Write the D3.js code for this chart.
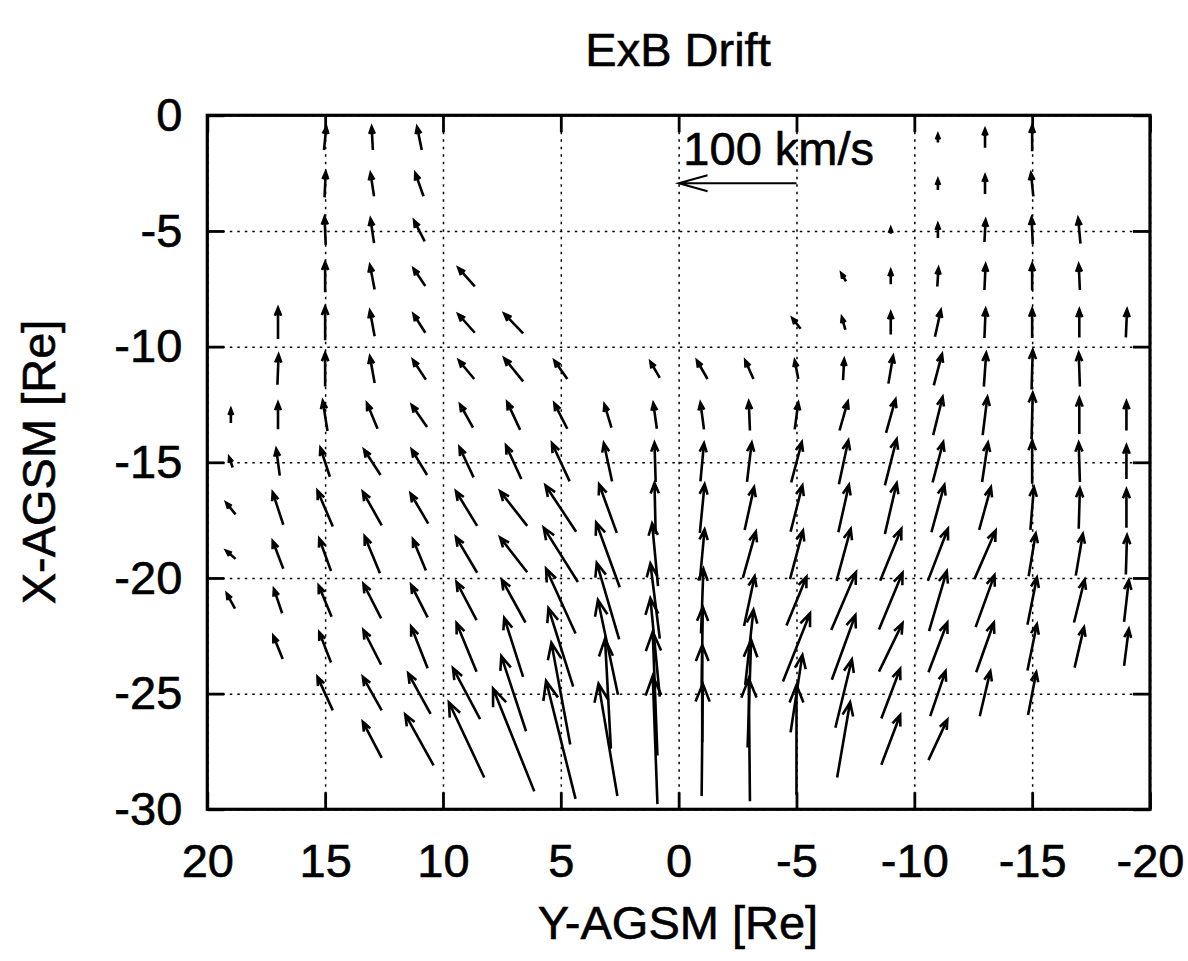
<!DOCTYPE html>
<html>
<head>
<meta charset="utf-8">
<script src="https://cdn.jsdelivr.net/npm/d3@7"></script>
<style>
  body { margin: 0; background: #fff; }
  text { font-family: "Liberation Sans", Arial, Helvetica, sans-serif; fill: #000; stroke: #000; stroke-width: 0.6px; }
</style>
</head>
<body>
<svg id="chart" width="1188" height="961"></svg>
<script>
// sample grid (Re)
const colsY = [19, 17, 15, 13, 11, 9, 7, 5, 3, 1, -1, -3, -5, -7, -9, -11, -13, -15, -17, -19];
const rowsX = [-1, -3, -5, -7, -9, -11, -13, -15, -17, -19, -21, -23, -25, -27, -29];

const n = null;
// Vx (km/s, sunward) : one line per Y column, rows X = -1 ... -29
const vxKms = [
  [n, n, n, n, n, n, 12, 9, 10, 7, 13, n, n, n, n],          // Y=19
  [n, n, n, n, 27, 26, 23, 23, 28, 24, 21, 20, n, n, n],     // Y=17
  [20, 22, 24, 26, 29, 29, 26, 25, 31, 28, 27, 26, 29, n, n],// Y=15
  [20, 20, 21, 21, 22, 23, 22, 22, 29, 32, 30, 30, 29, 31, n],
  [20, 20, 18, 15, 16, 17, 19, 22, 26, 27, 28, 36, 35, 44, n],
  [n, n, n, 16, 16, 16, 20, 26, 30, 31, 33, 42, 44, 65, n],
  [n, n, n, n, 17, 20, 24, 29, 30, 30, 37, 51, 65, 89, n],
  [n, n, n, n, n, 16, 22, 33, 40, 47, 56, 68, 88, 102, n],   // Y=5
  [n, n, n, n, n, n, 20, 33, 42, 56, 66, 82, 95, 97, n],
  [n, n, n, n, n, 14, 22, 34, 44, 54, 65, 85, 107, 111, n],  // Y=1
  [n, n, n, n, n, 16, 23, 33, 42, 44, 56, 70, 84, 97, n],    // Y=-1
  [n, n, n, n, n, 16, 25, 34, 37, 40, 43, 65, 93, 106, n],
  [n, n, n, n, 9, 16, 23, 35, 40, 42, 42, 59, 67, 95, n],    // Y=-5
  [n, n, n, 7, 11, 18, 25, 38, 41, 45, 50, 56, 59, 65, n],
  [n, n, 5, 12, 19, 24, 29, 40, 44, 45, 49, 42, 43, 43, n],
  [7, 9, 12, 16, 23, 27, 33, 35, 41, 45, 52, 43, 39, 35, n], // Y=-11
  [16, 16, 19, 22, 25, 29, 33, 34, 37, 42, 45, 43, 39, n, n],
  [22, 20, 23, 23, 25, 34, 40, 37, 37, 37, 41, 40, 37, n, n],// Y=-15
  [n, n, 22, 22, 24, 29, 31, 34, 35, 36, 37, 35, n, n, n],
  [n, n, n, n, 24, n, 25, 29, 33, 34, 36, 32, n, n, n]       // Y=-19
];
// Vy (km/s, +Y is to the left on this plot)
const vyKms = [
  [n, n, n, n, n, n, 0, 3, 8, 8, 7, n, n, n, n],
  [n, n, n, n, 0, -1, 0, 3, 9, 9, 7, 8, n, n, n],
  [-2, -1, 1, 0, 0, 0, 4, 8, 13, 10, 11, 10, 13, n, n],
  [1, 3, 3, 4, 4, 4, 9, 14, 16, 13, 15, 15, 16, 16, n],
  [4, 7, 9, 10, 10, 11, 13, 13, 15, 11, 14, 14, 19, 24, n],
  [n, n, n, 14, 14, 13, 11, 12, 18, 18, 17, 17, 23, 30, n],
  [n, n, n, n, 16, 16, 11, 13, 23, 23, 20, 16, 21, 35, n],
  [n, n, n, n, n, 11, 11, 15, 26, 29, 25, 21, 16, 25, n],
  [n, n, n, n, n, n, 6, 7, 15, 20, 19, 17, 5, 16, n],
  [n, n, n, n, n, 8, 3, 1, 1, 5, 8, 8, 4, 4, n],
  [n, n, n, n, n, 9, 3, -3, -4, -4, -2, -1, 0, -1, n],
  [n, n, n, n, n, 7, 1, -4, -8, -11, -9, -7, -3, 1, n],
  [n, n, n, n, 7, 3, -3, -9, -10, -11, -17, -23, -10, 0, n],
  [n, n, n, 4, 3, -1, -7, -8, -9, -12, -21, -20, -14, -11, n],
  [n, n, 0, 0, 0, -4, -8, -10, -10, -18, -20, -20, -16, -16, n],
  [0, 0, 0, -1, -5, -7, -8, -9, -11, -17, -15, -16, -13, -16, n],
  [0, 0, -1, -1, -1, -2, -4, -5, -10, -18, -16, -15, -9, n, n],
  [0, 2, 1, 0, 0, -1, -1, 0, -3, -6, -8, -8, -7, n, n],
  [n, n, 2, 1, 0, 1, 0, 1, -1, -6, -9, -8, n, n, n],
  [n, n, n, n, -1, n, 0, 0, 0, -1, -4, -4, n, n, n]
];

const xTicks = [20, 15, 10, 5, 0, -5, -10, -15, -20];
const yTicks = [0, -5, -10, -15, -20, -25, -30];

const keySpeed = 100;        // km/s
const keyTail = [-5, -2.94]; // Y, X of the reference arrow tail
const rePerKms = 0.05;       // 100 km/s drawn as 5 Re

const svg = d3.select("#chart");
const pLeft = 207.3, pRight = 1150, pTop = 115.3, pBottom = 809.3;

const x = d3.scaleLinear().domain([20, -20]).range([pLeft, pRight]);
const y = d3.scaleLinear().domain([0, -30]).range([pTop, pBottom]);

// dotted grid
svg.append("g")
  .attr("transform", `translate(0,${pBottom})`)
  .call(d3.axisBottom(x).tickValues(xTicks).tickSize(-(pBottom - pTop)).tickFormat(""))
  .call(g => g.select(".domain").remove())
  .selectAll("line")
  .attr("stroke-width", 1.5)
  .attr("stroke-dasharray", "2.5,5");

svg.append("g")
  .attr("transform", `translate(${pLeft},0)`)
  .call(d3.axisLeft(y).tickValues(yTicks).tickSize(-(pRight - pLeft)).tickFormat(""))
  .call(g => g.select(".domain").remove())
  .selectAll("line")
  .attr("stroke-width", 1.5)
  .attr("stroke-dasharray", "2.5,5");

// vectors, centred on the sample points
let arrows = [];
colsY.forEach((Y, i) => {
  rowsX.forEach((X, j) => {
    if (vxKms[i][j] == null) return;
    let dY = vyKms[i][j] * rePerKms, dX = vxKms[i][j] * rePerKms;
    arrows.push({ t: [x(Y - dY / 2), y(X - dX / 2)], h: [x(Y + dY / 2), y(X + dX / 2)] });
  });
});

function arrowPath(a, hl, ang) {
  let dx = a.h[0] - a.t[0], dy = a.h[1] - a.t[1];
  let th = Math.atan2(dy, dx);
  let w1 = [a.h[0] - hl * Math.cos(th - ang), a.h[1] - hl * Math.sin(th - ang)];
  let w2 = [a.h[0] - hl * Math.cos(th + ang), a.h[1] - hl * Math.sin(th + ang)];
  return `M${a.t}L${a.h}M${w1}L${a.h}L${w2}`;
}

svg.append("g")
  .selectAll("path")
  .data(arrows)
  .join("path")
  .attr("d", a => {
    let L = Math.hypot(a.h[0] - a.t[0], a.h[1] - a.t[1]);
    return arrowPath(a, 0.13 * L + 4.5, 0.38);
  })
  .attr("fill", "none")
  .attr("stroke", "#000")
  .attr("stroke-width", 2.6);

// key arrow
let key = {
  t: [x(keyTail[0]), y(keyTail[1])],
  h: [x(keyTail[0] + keySpeed * rePerKms), y(keyTail[1])]
};
svg.append("path")
  .attr("d", arrowPath(key, 30, 0.27))
  .attr("fill", "none")
  .attr("stroke", "#000")
  .attr("stroke-width", 2);

svg.append("text")
  .attr("x", x(-0.2))
  .attr("y", y(-2.15))
  .attr("font-size", 47)
  .text(keySpeed + " km/s");

// axes with inward ticks, mirrored
const fmt = d => String(d);
svg.append("g")
  .attr("transform", `translate(0,${pBottom})`)
  .call(d3.axisBottom(x).tickValues(xTicks).tickSizeInner(-17).tickSizeOuter(0).tickPadding(34).tickFormat(fmt))
  .call(g => g.select(".domain").remove())
  .call(g => g.selectAll("line").attr("stroke-width", 2.8))
  .call(g => g.selectAll("text").attr("font-size", 47));

svg.append("g")
  .attr("transform", `translate(${pLeft},0)`)
  .call(d3.axisLeft(y).tickValues(yTicks).tickSizeInner(-17).tickSizeOuter(0).tickPadding(25).tickFormat(fmt))
  .call(g => g.select(".domain").remove())
  .call(g => g.selectAll("line").attr("stroke-width", 2.8))
  .call(g => g.selectAll("text").attr("font-size", 47));

svg.append("g")
  .attr("transform", `translate(0,${pTop})`)
  .call(d3.axisTop(x).tickValues(xTicks).tickSizeInner(-17).tickSizeOuter(0).tickFormat(""))
  .call(g => g.select(".domain").remove())
  .call(g => g.selectAll("line").attr("stroke-width", 2.8));

svg.append("g")
  .attr("transform", `translate(${pRight},0)`)
  .call(d3.axisRight(y).tickValues(yTicks).tickSizeInner(-17).tickSizeOuter(0).tickFormat(""))
  .call(g => g.select(".domain").remove())
  .call(g => g.selectAll("line").attr("stroke-width", 2.8));

// frame
svg.append("rect")
  .attr("x", pLeft).attr("y", pTop)
  .attr("width", pRight - pLeft).attr("height", pBottom - pTop)
  .attr("fill", "none")
  .attr("stroke", "#000")
  .attr("stroke-width", 3.2);

// titles
svg.append("text")
  .attr("x", 678).attr("y", 66)
  .attr("text-anchor", "middle")
  .attr("font-size", 47)
  .text("ExB Drift");

svg.append("text")
  .attr("x", 678).attr("y", 939)
  .attr("text-anchor", "middle")
  .attr("font-size", 47)
  .text("Y-AGSM [Re]");

svg.append("text")
  .attr("transform", "translate(55,462) rotate(-90)")
  .attr("text-anchor", "middle")
  .attr("font-size", 47)
  .text("X-AGSM [Re]");
</script>
</body>
</html>
